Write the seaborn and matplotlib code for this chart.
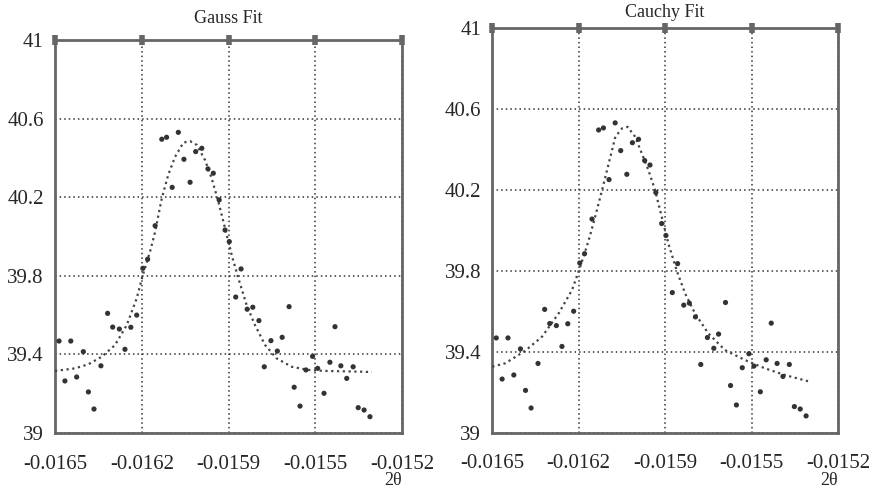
import matplotlib.pyplot as plt
import pandas as pd
import seaborn as sns

# measured points (same data in both panels)
two_theta = [
    -0.016485, -0.016441, -0.016463, -0.016419, -0.016394, -0.016375, -0.016354,
    -0.016328, -0.016303, -0.016284, -0.016259, -0.016238, -0.016216, -0.016194,
    -0.016171, -0.016153, -0.016125, -0.016100, -0.016082, -0.016061, -0.016038,
    -0.016017, -0.015994, -0.015973, -0.015950, -0.015927, -0.015907, -0.015885,
    -0.015863, -0.015847, -0.015823, -0.015803, -0.015780, -0.015759, -0.015736,
    -0.015716, -0.015691, -0.015667, -0.015649, -0.015623, -0.015604, -0.015582,
    -0.015560, -0.015535, -0.015516, -0.015492, -0.015470, -0.015451, -0.015429,
    -0.015407, -0.015383, -0.015364, -0.015342, -0.015320,
]
intensity = [
    39.468, 39.468, 39.265, 39.285, 39.414, 39.209, 39.122,
    39.342, 39.609, 39.539, 39.529, 39.426, 39.538, 39.600,
    39.838, 39.884, 40.055, 40.495, 40.505, 40.250, 40.530,
    40.393, 40.276, 40.432, 40.449, 40.344, 40.322, 40.186,
    40.033, 39.974, 39.692, 39.835, 39.630, 39.640, 39.572,
    39.337, 39.470, 39.417, 39.487, 39.643, 39.233, 39.137,
    39.321, 39.390, 39.329, 39.202, 39.360, 39.541, 39.342,
    39.278, 39.337, 39.129, 39.117, 39.083,
]

# fitted curves
gauss_x = [
    -0.016500, -0.016425, -0.016375, -0.016325, -0.016275, -0.016231, -0.016194,
    -0.016173, -0.016144, -0.016125, -0.016100, -0.016076, -0.016050, -0.016019,
    -0.015994, -0.015969, -0.015938, -0.015913, -0.015888, -0.015863, -0.015838,
    -0.015813, -0.015782, -0.015751, -0.015713, -0.015670, -0.015613, -0.015551,
    -0.015489, -0.015351, -0.015313,
]
gauss_y = [
    39.316, 39.329, 39.350, 39.388, 39.448, 39.550, 39.685,
    39.795, 39.923, 40.024, 40.194, 40.313, 40.406, 40.478,
    40.485, 40.466, 40.389, 40.296, 40.177, 40.042, 39.906,
    39.787, 39.651, 39.550, 39.448, 39.380, 39.337, 39.321,
    39.316, 39.312, 39.310,
]
cauchy_x = [
    -0.016500, -0.016451, -0.016376, -0.016313, -0.016250, -0.016200, -0.016169,
    -0.016137, -0.016113, -0.016087, -0.016062, -0.016037, -0.016012, -0.015991,
    -0.015963, -0.015938, -0.015913, -0.015888, -0.015863, -0.015838, -0.015807,
    -0.015775, -0.015738, -0.015688, -0.015625, -0.015550, -0.015475, -0.015400,
    -0.015306,
]
cauchy_y = [
    39.326, 39.343, 39.405, 39.474, 39.590, 39.705, 39.820,
    39.952, 40.067, 40.199, 40.330, 40.462, 40.503, 40.510,
    40.462, 40.380, 40.297, 40.199, 40.067, 39.935, 39.803,
    39.688, 39.590, 39.491, 39.408, 39.359, 39.318, 39.285,
    39.252,
]

x_ticks = [-0.0165, -0.016175, -0.01585, -0.015525, -0.0152]
x_tick_labels = ["-0.0165", "-0.0162", "-0.0159", "-0.0155", "-0.0152"]
y_ticks = [39, 39.4, 39.8, 40.2, 40.6, 41]
y_tick_labels = ["39", "39.4", "39.8", "40.2", "40.6", "41"]

sns.set_style("white")
plt.rcParams["font.family"] = ["Liberation Serif", "DejaVu Serif"]

points = pd.DataFrame({"x": two_theta, "y": intensity})
fits = {
    "Gauss Fit": pd.DataFrame({"x": gauss_x, "y": gauss_y}),
    "Cauchy Fit": pd.DataFrame({"x": cauchy_x, "y": cauchy_y}),
}

fig = plt.figure(figsize=(8.75, 4.92), dpi=100)
ax_g = fig.add_axes([0.0629, 0.1199, 0.3965, 0.7988])
ax_c = fig.add_axes([0.5626, 0.1205, 0.3951, 0.8232])

title_pads = {"Gauss Fit": 12, "Cauchy Fit": 8}

for ax, (title, fit) in zip([ax_g, ax_c], fits.items()):
    sns.lineplot(data=fit, x="x", y="y", ax=ax, color="#444444",
                 linewidth=1.6, linestyle=(0, (1, 1.6)), zorder=3)
    sns.scatterplot(data=points, x="x", y="y", ax=ax, color="#333333",
                    s=14, edgecolor="none", zorder=4)

    ax.set_xlim(-0.0165, -0.0152)
    ax.set_ylim(39, 41)
    ax.set_xticks(x_ticks)
    ax.set_xticklabels(x_tick_labels)
    ax.set_yticks(y_ticks)
    ax.set_yticklabels(y_tick_labels)
    ax.grid(True, linestyle=(0, (1, 2)), color="#333333", linewidth=1.1)
    ax.tick_params(axis="x", direction="inout", length=7, width=4,
                   color="#666666", top=True, labelsize=15, pad=12)
    ax.tick_params(axis="y", length=0, labelsize=15, pad=8)
    for sp in ax.spines.values():
        sp.set_color("#666666")
        sp.set_linewidth(2)
    ax.set_title(title, fontsize=13, pad=title_pads[title])
    ax.set_xlabel("2θ", loc="right", fontsize=13, labelpad=-1)
    ax.set_ylabel("")

fig.savefig("out.png", dpi=100)
